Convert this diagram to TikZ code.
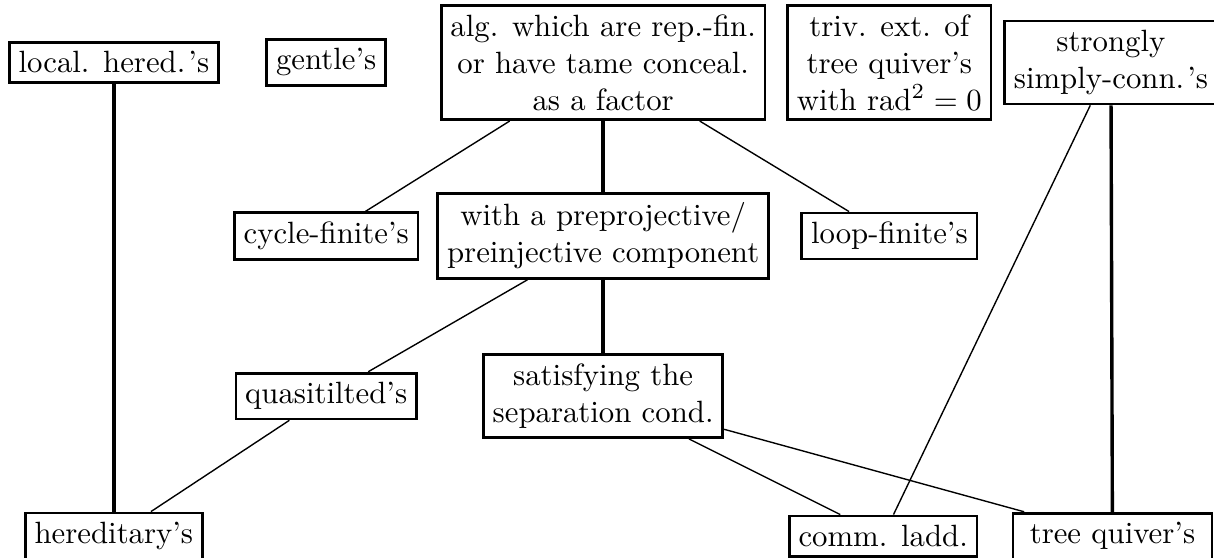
\documentclass[tikz,border=0pt]{standalone}
\begin{document}
\begin{tikzpicture}[
  cls/.style={draw, line width=0.9pt, inner sep=3pt, align=center},
  thinlink/.style={line width=0.45pt},
  thicklink/.style={line width=1.1pt}]
\useasboundingbox (0pt,0pt) rectangle (394.5pt,-181.3pt);
% top row
\node[cls] (lh) at (37pt,-20.3pt) {local. hered.\kern1pt's};
\node[cls] (gen) at (106pt,-20.3pt) {gentle's};
\node[cls] (alg) at (196pt,-20.3pt) {alg. which are rep.-fin.\\or have tame conceal.\\as a factor};
\node[cls] (triv) at (289pt,-20.3pt) {triv. ext. of\\tree quiver's\\with rad$^2=0$};
\node[cls, minimum width=68.3pt] (ssc) at (361pt,-20.3pt) {strongly\\simply-conn.\kern1pt's};
% second row
\node[cls] (cyc) at (106pt,-76.7pt) {cycle-finite's};
\node[cls] (prep) at (196pt,-76.7pt) {with a preprojective/\\preinjective component};
\node[cls] (loop) at (289pt,-76.7pt) {loop-finite's};
% third row
\node[cls] (qt) at (106pt,-128.7pt) {quasitilted's};
\node[cls] (sep) at (196pt,-128.7pt) {satisfying the\\separation cond.};
% bottom row
\node[cls] (her) at (37pt,-174.2pt) {hereditary's};
\node[cls] (ladd) at (287pt,-174.2pt) {comm. ladd.};
\node[cls, minimum width=64.7pt] (tree) at (361.5pt,-174.2pt) {tree quiver's};
% links
\draw[thicklink] (lh) -- (her);
\draw[thicklink] (alg) -- (prep);
\draw[thicklink] (prep) -- (sep);
\draw[thicklink] (ssc) -- (tree);
\draw[thinlink] (alg) -- (cyc);
\draw[thinlink] (alg) -- (loop);
\draw[thinlink] (prep) -- (qt);
\draw[thinlink] (qt) -- (her);
\draw[thinlink] (sep) -- (ladd);
\draw[thinlink] (sep) -- (tree);
\draw[thinlink] (ssc) -- (ladd);
\end{tikzpicture}
\end{document}
